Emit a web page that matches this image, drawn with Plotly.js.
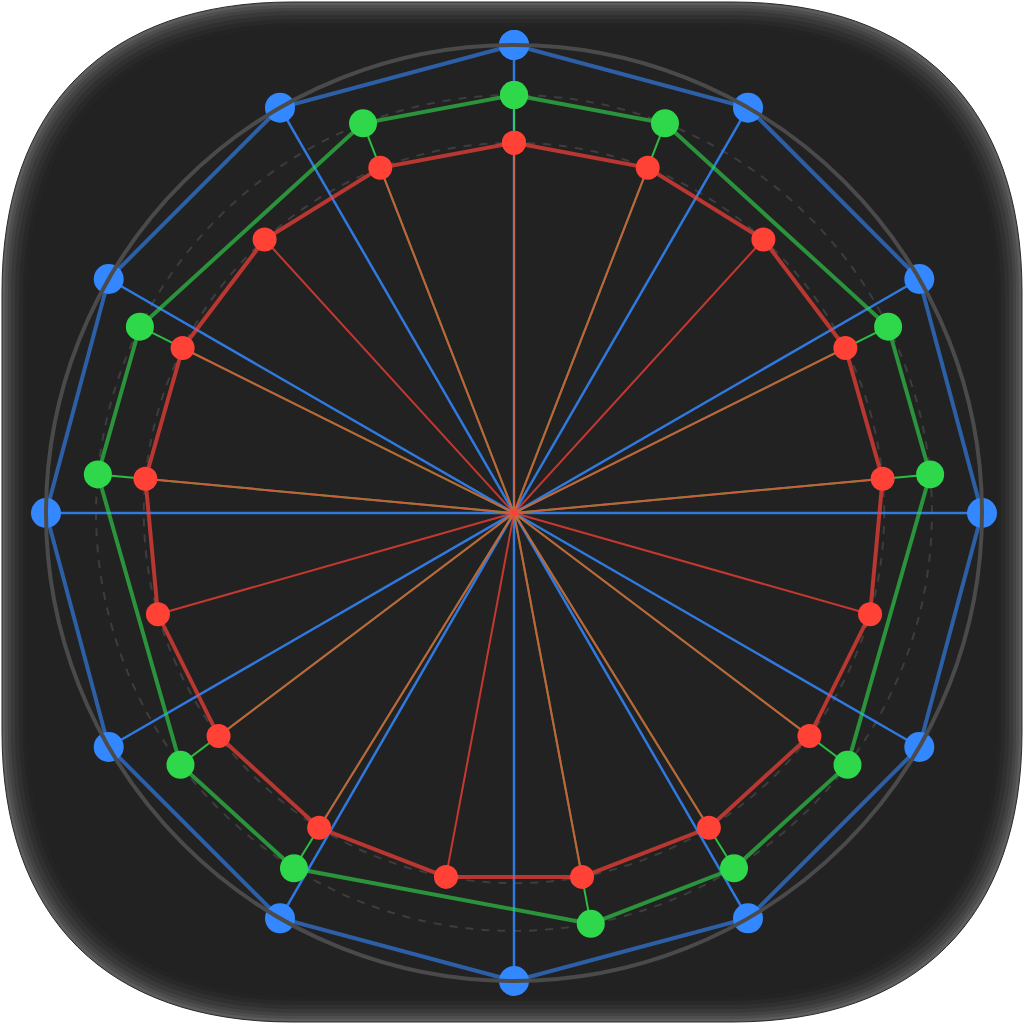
<!DOCTYPE html>
<html>
<head>
<meta charset="utf-8">
<script src="https://cdn.plot.ly/plotly-3.0.1.min.js"></script>
<style>
  html, body { margin: 0; padding: 0; background: #ffffff; }
  #chart { width: 1024px; height: 1024px; }
</style>
</head>
<body>
<div id="chart"></div>
<script>
// three rings of values, polar, slots spread evenly round the circle
const blueValues = [100, 100, 100, 100, 100, 100, 100, 100, 100, 100, 100, 100];
const greenValues = [89.3, 89.3, null, 89.3, 89.3, null, 89.3, 89.3, 89.3, null, 89.3, 89.3, null, 89.3, 89.3, null, 89.3];
const redValues = [79.1, 79.1, 79.1, 79.1, 79.1, 79.1, 79.1, 79.1, 79.1, 79.1, 79.1, 79.1, 79.1, 79.1, 79.1, 79.1, 79.1];

const BLUE = "#3388ff";
const GREEN = "#2ed84a";
const RED = "#ff4136";

function rgba(hex, a) {
    const n = parseInt(hex.slice(1), 16);
    return `rgba(${(n >> 16) & 255},${(n >> 8) & 255},${n & 255},${a})`;
}

function thetas(values) {
    return values.map((_, i) => i * 360 / values.length);
}

// spokes: centre -> each point, gaps between
function spokeTrace(values, color, width) {
    const th = thetas(values);
    const r = [];
    const t = [];
    values.forEach((v, i) => {
        if (v === null) return;
        r.push(0, v, null);
        t.push(th[i], th[i], null);
    });
    return {
        type: "scatterpolar", mode: "lines", r: r, theta: t,
        line: { color: color, width: width },
        connectgaps: false, cliponaxis: false, hoverinfo: "skip"
    };
}

function ringTrace(values, lineColor, markColor, size) {
    const th = thetas(values);
    return {
        type: "scatterpolar", mode: "lines+markers",
        r: values.concat([values[0]]),
        theta: th.concat([th[0] + 360]),
        line: { color: lineColor, width: 4 },
        marker: { color: markColor, size: size, line: { width: 0 } },
        connectgaps: true, cliponaxis: false, hoverinfo: "skip"
    };
}

// rounded "squircle" background in paper coords
function squircle(inset) {
    const x0 = 2 + inset, y0 = 2 + inset, x1 = 1022 - inset, y1 = 1022 - inset;
    const R = 290 - inset * 0.6, k = 0.36;
    const px = v => (v / 1024).toFixed(5);
    const py = v => (1 - v / 1024).toFixed(5);
    const P = (x, y) => `${px(x)},${py(y)}`;
    return "M" + P(x0 + R, y0) +
        " L" + P(x1 - R, y0) +
        " C" + P(x1 - k * R, y0) + " " + P(x1, y0 + k * R) + " " + P(x1, y0 + R) +
        " L" + P(x1, y1 - R) +
        " C" + P(x1, y1 - k * R) + " " + P(x1 - k * R, y1) + " " + P(x1 - R, y1) +
        " L" + P(x0 + R, y1) +
        " C" + P(x0 + k * R, y1) + " " + P(x0, y1 - k * R) + " " + P(x0, y1 - R) +
        " L" + P(x0, y0 + R) +
        " C" + P(x0, y0 + k * R) + " " + P(x0 + k * R, y0) + " " + P(x0 + R, y0) + " Z";
}

const rims = [
    [0, "#5c5c5c"], [3, "#4e4e4e"], [6, "#434343"], [9, "#393939"],
    [13, "#303030"], [17, "#292929"], [21, "#242424"], [25, "#222222"]
];
const shapes = rims.map(([inset, fill], i) => ({
    type: "path", xref: "paper", yref: "paper", layer: "below",
    path: squircle(inset), fillcolor: fill,
    line: i === 0 ? { color: "#2a2a2a", width: 1 } : { width: 0 }
}));

const traces = [
    spokeTrace(blueValues, rgba(BLUE, 0.85), 2.5),
    ringTrace(blueValues, rgba(BLUE, 0.6), BLUE, 30),
    spokeTrace(greenValues, rgba(GREEN, 0.85), 2),
    ringTrace(greenValues, rgba(GREEN, 0.62), GREEN, 28),
    spokeTrace(redValues, rgba(RED, 0.74), 2),
    ringTrace(redValues, rgba(RED, 0.68), RED, 24)
];

const layout = {
    width: 1024, height: 1024,
    margin: { l: 0, r: 0, t: 0, b: 0 },
    paper_bgcolor: "#ffffff",
    showlegend: false,
    shapes: shapes,
    polar: {
        domain: { x: [46 / 1024, 982 / 1024], y: [43 / 1024, 979 / 1024] },
        bgcolor: "rgba(0,0,0,0)",
        angularaxis: {
            rotation: 90, direction: "clockwise",
            showgrid: false, showticklabels: false, ticks: "",
            showline: true, linecolor: "#4a4a4a", linewidth: 4
        },
        radialaxis: {
            range: [0, 100],
            tickvals: [79.1, 89.3],
            showticklabels: false, ticks: "", showline: false,
            gridcolor: "#3d3d3d", gridwidth: 2, griddash: "8px,8px"
        }
    }
};

Plotly.newPlot("chart", traces, layout, { displayModeBar: false, staticPlot: true });
</script>
</body>
</html>
